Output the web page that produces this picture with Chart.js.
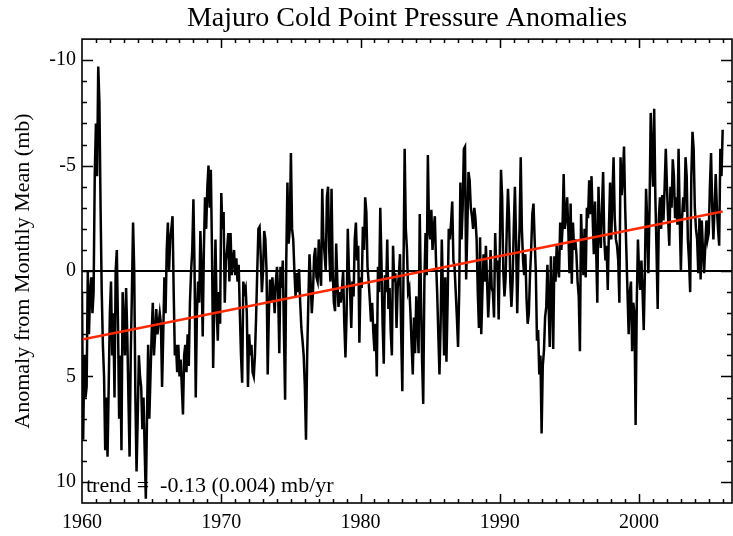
<!DOCTYPE html>
<html>
<head>
<meta charset="utf-8">
<script src="https://cdn.jsdelivr.net/npm/chart.js@4.4.1/dist/chart.umd.min.js"></script>
<style>
  html, body { margin: 0; padding: 0; background: #fff; }
  canvas { display: block; }
</style>
</head>
<body>
<canvas id="chart" width="733" height="536"></canvas>
<script>
// monthly anomalies (mb), starting Jan 1960
const startYear = 1960;
const anom1960s = [
  1, 8, 4, 6, 5.5, 0, 3, 1, 0.3, 2,
  1, -4.6, -7, -4.5, -9.7, -8, -3, 1, 3.5, 5,
  8.5, 6, 8.8, 5.5, 2, 0.5, 4, 2, 6, 0,
  -1, 2.5, 7, 4, 8.5, 1, 2.5, 4, 0.8, 3,
  6, 8.8, 4, 1, -2.3, 0, 6, 9.5, 7, 4,
  5, 5.5, 7.5, 6, 8.5, 10.8, 7, 3.5, 7, 5,
  3, 1.5, 4, 3, 1.8, 3, 2.5, 2, 2.5, 5.5,
  3, 0.3, 2, -1, -2.3, 0, -1.5, -2, -2.6, 1,
  4, 3.5, 4.8, 3.5, 5, 4.2, 5.5, 6.8, 4, 3.5,
  4.8, 3, 4.5, 1.5, 0, -1, -3.4, 0, 6, 2,
  0.5, 1.5, -1.9, 0, 3.1, -1, -3.5, -2, -4, -5,
  -3, -4.8, -1, 4.6, 1.5, -1.5, 1.8, 3.3, 1, 2.5
];
const anom1970s = [
  -3.7, -2, -2.8, 1.5, -0.5, -1, -1.8, 0.5, -1.8, 0.2,
  -0.5, -1, 0.2, -0.6, 0.5, -0.3, 2, 4, 5.3, 0.5,
  1, 0.8, 2, 5.5, 3, 4, 3.5, 4.8, 5, 4,
  2.2, 0, -2, -2.1, -0.7, 1, 0, -1.9, -1.5, 0,
  4.9, 2, 0.4, 1.5, 0.3, 1, 2, 0.5, -0.2, 1,
  3.9, -0.2, 0.8, -0.5, 3, 6.1, -0.5, -4.2, -1.3, -2,
  -5.6, -2, -1.5, 0, 1.2, 0.1, 1, -0.1, 1.5, 2.7,
  3.3, 4, 5.5, 8, 4, 1.5, -0.8, 0.5, 2, 1,
  -0.7, -1.1, 0.3, 0.5, -1.5, 0, 0.7, -3.9, -1.5, -0.8,
  0, -3.5, -4, -1, 0.5, -3.9, 0, 1.5, 1.9, -1.3,
  0.5, 1.7, 1, 1.5, 0.8, 0, 2.5, 4.1, 2, -2,
  0, 1, 2.7, 0.5, 1.2, -1.5, -2.3, -0.5, -1.2, 3.4
];
const anom1980s = [
  0.3, 0.8, -2.1, -1, -3.5, -2.8, -0.2, 0.5, 1.4, 2.4,
  1.5, 2.9, 3.8, 2.5, 5, -0.2, 1, -3, -0.5, 2.5,
  4.4, 0.2, 1, -1.5, 1.8, 0.8, 2.9, 4, -1.2, 0.5,
  0.1, 2.7, 0.8, 0.2, -0.8, 3, 5.7, 0, -5.8, -2,
  -1, 1, 0.8, 2, 3.5, 4.9, 2.2, 3.9, 1.2, 2.5,
  3.9, -2.7, 1, 4.2, 6.3, 0.5, -1.8, 0.2, -5.5, -2,
  -1.5, -2.9, -1, -2, -2.6, -0.5, 1, 3, 4.9, 2.5,
  -1.5, 1, 4, 0.3, 4.3, 1.5, -2, -1.5, -2.3, -3.3,
  -0.5, -0.2, 1, 2.2, 3.6, 1, -4.2, -1.5, -3, -5.8,
  -5.9, 0.4, -2, -4.7, -4.3, -3, -2.6, -2, -3, -2.5,
  -1.5, 1, 2.7, -1.6, 3, 1, -0.8, 0.5, -1.2, 0.5,
  2.2, 1, -1, 0.8, 1, 2.2, -1.8, 0, -0.5, 2.3
];
const anom1990s = [
  -1, -4.8, -3.5, 0, 1.2, 0.3, -2, -3.9, -2.5, 0.5,
  1.7, 0.5, -2, -4, -1.5, 2, -0.5, -2, -5.4, -2,
  -0.5, 0.2, -0.8, 1.3, 2.5, 2, 0.2, -1, -2.7, -3.2,
  -1.5, 0, 3.3, 2.8, 4.9, 4, 7.7, 4.5, 3.8, 2.2,
  1.7, -0.3, 1.5, 3.6, -0.7, 1, 3.7, -0.7, 0.5, -1.2,
  -0.2, 0.3, -2.3, -1, -2, -4.6, -2, -2.5, -3.5, -2,
  0.1, -3.2, 0.6, -2.3, -1, -1.5, -0.8, 0.5, 1.2, 3.8,
  -2.7, -1, 0.2, -2, 0.3, -3, -2.5, -4.3, -2.7, -4.5,
  -2.5, -0.8, -3.3, -1, 1.5, -4, -2, -1.1, -3, -4.7,
  -1.5, -0.5, -1.2, 0.9, -2, -4.2, -1.5, -3.5, -5.4, -2.5,
  -1.5, -1.2, -0.5, 1.5, -5.4, -3.6, -4.5, -5.9, -3, -1,
  1, 3, 1, 0.5, 3.8, 1.5, 2, 7.3, 1.5, -1.5
];
const anom2000s = [
  0.1, 0.9, -0.5, 1, 2.8, 0, -3.9, -2.4, 0.1, -3,
  -7.5, -5.5, -4, -7.7, -3.5, -1, 1.8, -2.5, -3.5, -2,
  -3.6, -2.4, -4, -5.8, -4, -2.5, -1.2, -4, -3, -5.3,
  -4.5, -2.5, -3.5, -2.2, -5.8, -2.5, 0, -2.5, -3.5, -2.8,
  -5.4, -4.5, -1.5, -0.5, 1, -4.5, -6.6, -5.8, -3, -2,
  -1.5, 0.1, -2.5, 0.4, -2.4, -1, 0.1, -1.2, -2.4, -1.5,
  -1.8, -4, -5.6, -3, -1.5, -3, -4.6, -3, -2, -1.2,
  -5.8, -4.5, -6.7
];

// least-squares trend line end points
const trendYears = [1960, 2006];
const trendValues = [3.25, -2.82];
const trendLabel = 'trend =  -0.13 (0.004) mb/yr';

// axes
const xRange = [1960, 2006.67];
const yRange = [-11, 11];
const xTickLabels = [1960, 1970, 1980, 1990, 2000];
const yTickLabels = [-10, -5, 0, 5, 10];

const serif = "'Liberation Serif', 'Times New Roman', serif";

const anoms = [].concat(anom1960s, anom1970s, anom1980s, anom1990s, anom2000s)
  .map((v, i) => ({ x: startYear + i / 12, y: v }));
const trend = trendYears.map((yr, i) => ({ x: yr, y: trendValues[i] }));
const zero = xRange.map(yr => ({ x: yr, y: 0 }));

// IDL style frame with inward ticks on all four sides
const idlFrame = {
  id: 'idlFrame',
  afterDraw(chart) {
    const { ctx, chartArea: a, scales } = chart;
    const xs = scales.x, ys = scales.y;
    ctx.save();
    ctx.strokeStyle = '#000';
    ctx.lineWidth = 1.6;
    ctx.strokeRect(a.left, a.top, a.right - a.left, a.bottom - a.top);
    ctx.lineWidth = 1.5;
    ctx.beginPath();
    for (let v = yRange[0] + 1; v < yRange[1]; v++) {
      const y = Math.round(ys.getPixelForValue(v)) + 0.5;
      const len = v % 5 === 0 ? 11 : 5;
      ctx.moveTo(a.left, y); ctx.lineTo(a.left + len, y);
      ctx.moveTo(a.right, y); ctx.lineTo(a.right - len, y);
    }
    for (let yr = Math.ceil(xRange[0]) + 1; yr < xRange[1]; yr++) {
      const x = Math.round(xs.getPixelForValue(yr)) + 0.5;
      const len = yr % 10 === 0 ? 9 : 4;
      ctx.moveTo(x, a.top); ctx.lineTo(x, a.top + len);
      ctx.moveTo(x, a.bottom); ctx.lineTo(x, a.bottom - len);
    }
    ctx.stroke();
    ctx.fillStyle = '#000';
    ctx.font = '22px ' + serif;
    ctx.textBaseline = 'alphabetic';
    ctx.fillText(trendLabel, a.left + 4, a.bottom - 11);
    ctx.restore();
  }
};

new Chart(document.getElementById('chart'), {
  type: 'line',
  data: {
    datasets: [
      { label: 'zero', data: zero, borderColor: '#000', borderWidth: 2, pointRadius: 0, order: 3 },
      { label: 'anomaly', data: anoms, borderColor: '#000', borderWidth: 2.5, pointRadius: 0, tension: 0, order: 2 },
      { label: 'trend', data: trend, borderColor: '#ff2a00', borderWidth: 2.5, pointRadius: 0, order: 1 }
    ]
  },
  options: {
    responsive: false,
    animation: false,
    layout: { autoPadding: false, padding: { left: 0, right: 1, top: 0, bottom: 0 } },
    plugins: {
      legend: { display: false },
      tooltip: { enabled: false },
      title: {
        display: true,
        fullSize: false,
        text: 'Majuro Cold Point Pressure Anomalies',
        color: '#000',
        font: { family: serif, size: 28, weight: 'normal' },
        padding: { top: 1.5, bottom: 4 }
      }
    },
    scales: {
      x: {
        type: 'linear',
        min: xRange[0], max: xRange[1],
        grid: { display: false, drawTicks: false },
        border: { display: false },
        afterBuildTicks: s => { s.ticks = xTickLabels.map(v => ({ value: v })); },
        afterFit: s => { s.height = 33; },
        ticks: {
          color: '#000', padding: 8, maxRotation: 0, autoSkip: false,
          font: { family: serif, size: 20 },
          callback: v => String(v)
        }
      },
      y: {
        type: 'linear',
        reverse: true,
        min: yRange[0], max: yRange[1],
        grid: { display: false, drawTicks: false },
        border: { display: false },
        afterBuildTicks: s => { s.ticks = yTickLabels.map(v => ({ value: v })); },
        afterFit: s => { s.width = 82; },
        title: {
          display: true,
          text: 'Anomaly from Monthly Mean (mb)',
          color: '#000',
          font: { family: serif, size: 22 },
          padding: { top: 10, bottom: 0 }
        },
        ticks: {
          color: '#000', padding: 6,
          font: { family: serif, size: 20 },
          callback: v => String(v)
        }
      }
    }
  },
  plugins: [idlFrame]
});
</script>
</body>
</html>
